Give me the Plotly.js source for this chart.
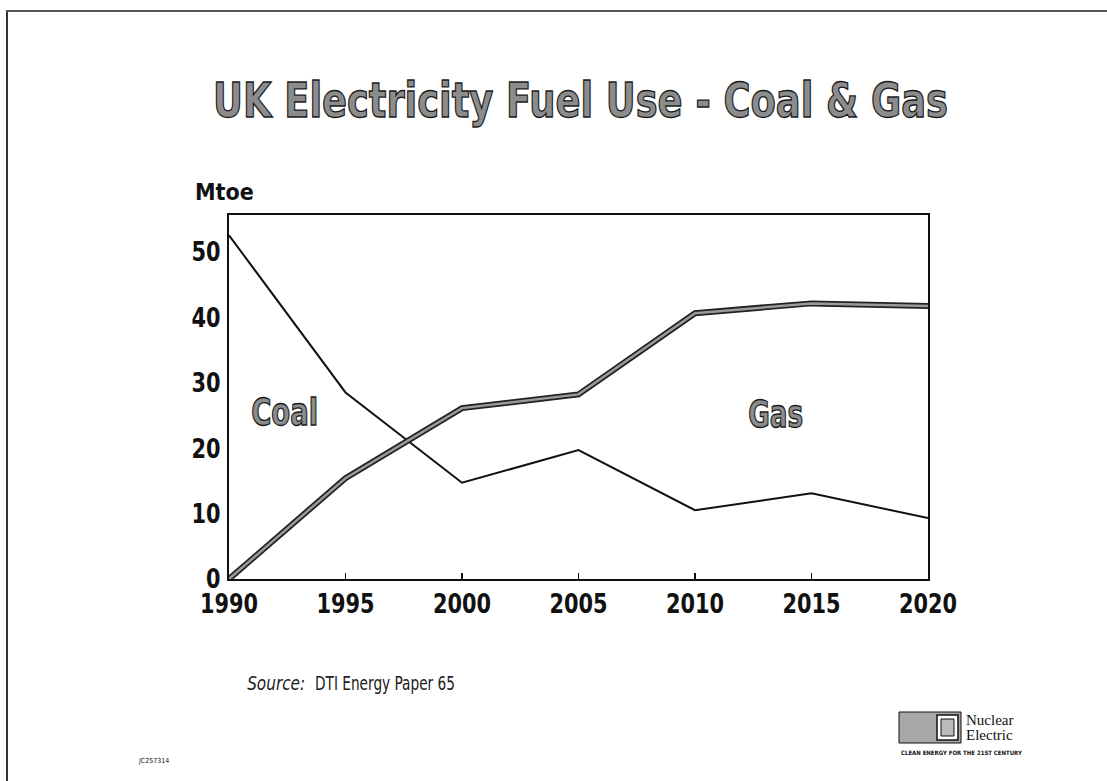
<!DOCTYPE html>
<html>
<head>
<meta charset="utf-8">
<script src="https://cdn.plot.ly/plotly-3.0.1.min.js"></script>
<style>
  html, body { margin: 0; padding: 0; background: #fff; }
  #chart { width: 1107px; height: 781px; }
</style>
</head>
<body>
<div id="chart"></div>
<script>
// ---- data ----
const years = [1990, 1995, 2000, 2005, 2010, 2015, 2020];
const coal  = [52.5, 28.5, 14.7, 19.7, 10.5, 13.1, 9.3];
const gas   = [0.0, 15.4, 26.1, 28.2, 40.6, 42.1, 41.7];
const yTicks = [0, 10, 20, 30, 40, 50];
const xTicks = [1990, 1995, 2000, 2005, 2010, 2015, 2020];

const W = 1107, H = 781;
const M = {l: 229, r: W - 928, t: 215, b: H - 579};
const PW = W - M.l - M.r, PH = H - M.t - M.b;
const px = x => (x - M.l) / PW;
const py = y => (H - M.b - y) / PH;

const NARROW = "'Liberation Sans Narrow', 'DejaVu Sans Condensed', 'Arial Narrow', sans-serif";
const SERIF = "'Liberation Serif', 'DejaVu Serif', serif";

const traces = [
  {x: years, y: coal, mode: 'lines', line: {color: '#111', width: 2}, hoverinfo: 'skip'},
  {x: years, y: gas, mode: 'lines', line: {color: '#222', width: 6}, hoverinfo: 'skip'},
  {x: years, y: gas, mode: 'lines', line: {color: '#9a9a9a', width: 2.5}, hoverinfo: 'skip'}
];

const ann = (text, x, y, size, opts = {}) => Object.assign({
  text, xref: 'paper', yref: 'paper', x: px(x), y: py(y), showarrow: false,
  font: {family: NARROW, size, color: '#111'}, xanchor: 'left', yanchor: 'middle'
}, opts);

const layout = {
  width: W, height: H, margin: M, showlegend: false,
  paper_bgcolor: '#fff', plot_bgcolor: '#fff',
  title: {text: 'UK Electricity Fuel Use - Coal &amp; Gas', x: (213 + 948) / 2 / W, xref: 'container',
          xanchor: 'center', y: 1 - 100 / H, yanchor: 'middle', yref: 'container',
          font: {family: NARROW, size: 48, color: '#8c8c8c', weight: 'bold'}},
  xaxis: {range: [1990, 2020], tickvals: xTicks, ticktext: xTicks.map(String),
          ticks: 'inside', ticklen: 6, tickcolor: '#111', tickwidth: 1.5,
          showgrid: false, zeroline: false, showline: true, linecolor: '#111', linewidth: 2,
          mirror: true, fixedrange: true,
          tickfont: {family: NARROW, size: 27, color: '#111', weight: 'bold'}},
  yaxis: {range: [0, 55.6], tickvals: yTicks, ticktext: yTicks.map(String),
          ticks: '', showgrid: false, zeroline: false, showline: true, linecolor: '#111', linewidth: 2,
          mirror: true, fixedrange: true, ticklabelstandoff: 1,
          tickfont: {family: NARROW, size: 27, color: '#111', weight: 'bold'}},
  annotations: [
    ann('Mtoe', 193, 192, 23, {font: {family: NARROW, size: 23, color: '#111', weight: 'bold'}}),
    ann('Coal', 284, 412, 38, {xanchor: 'center', font: {family: NARROW, size: 38, color: '#8c8c8c', weight: 'bold'}}),
    ann('Gas', 775, 414, 38, {xanchor: 'center', font: {family: NARROW, size: 38, color: '#8c8c8c', weight: 'bold'}}),
    ann('<i>Source:</i>', 276, 683, 20, {xanchor: 'center', font: {family: NARROW, size: 20, color: '#222'}}),
    ann('DTI Energy Paper 65', 385, 683, 20, {xanchor: 'center', font: {family: NARROW, size: 20, color: '#222'}}),
    ann('Nuclear', 964, 720, 15, {font: {family: SERIF, size: 15, color: '#111'}}),
    ann('Electric', 964, 735, 15, {font: {family: SERIF, size: 15, color: '#111'}}),
    ann('CLEAN ENERGY FOR THE 21ST CENTURY', 899, 752, 6, {font: {family: NARROW, size: 6, color: '#111', weight: 'bold'}}),
    ann('JC257314', 136, 761, 7, {font: {family: NARROW, size: 7, color: '#111'}})
  ],
  shapes: [
    // page frame (left and top edges of the scanned slide)
    {type: 'line', xref: 'paper', yref: 'paper', x0: px(7), x1: px(7), y0: py(11), y1: py(781), line: {color: '#333', width: 2}},
    {type: 'line', xref: 'paper', yref: 'paper', x0: px(6), x1: px(1107), y0: py(11), y1: py(11), line: {color: '#555', width: 2}},
    // logo
    {type: 'rect', xref: 'paper', yref: 'paper', x0: px(899), x1: px(961), y0: py(743), y1: py(712), fillcolor: '#a8a8a8', line: {color: '#111', width: 1}},
    {type: 'rect', xref: 'paper', yref: 'paper', x0: px(937), x1: px(958), y0: py(740), y1: py(715), fillcolor: '#fff', line: {color: '#111', width: 1.5}},
    {type: 'rect', xref: 'paper', yref: 'paper', x0: px(941), x1: px(954), y0: py(736), y1: py(719), fillcolor: '#bbb', line: {color: '#111', width: 1}}
  ]
};

Plotly.newPlot('chart', traces, layout, {displayModeBar: false, staticPlot: true}).then(() => {
  // condense glyphs horizontally to mimic the narrow typeface of the slide
  const fit = (el, len) => {
    el.setAttribute('textLength', String(len));
    el.setAttribute('lengthAdjust', 'spacingAndGlyphs');
  };
  const squeeze = (el, f) => {
    const len = el.getComputedTextLength();
    if (len > 0) fit(el, (len * f).toFixed(1));
  };
  const outline = el => { el.style.stroke = '#1a1a1a'; el.style.strokeWidth = '1.3px'; };
  document.querySelectorAll('.gtitle').forEach(el => { outline(el); fit(el, 735); });
  document.querySelectorAll('.annotation-text').forEach(el => {
    const t = el.textContent;
    if (t === 'Coal') { outline(el); fit(el, 67); }
    else if (t === 'Gas') { outline(el); fit(el, 55); }
    else if (t === 'Source:') fit(el, 58);
    else if (t === 'DTI Energy Paper 65') fit(el, 140);
  });
  document.querySelectorAll('.xtick text, .ytick text').forEach(el => squeeze(el, 0.86));
});
</script>
</body>
</html>
